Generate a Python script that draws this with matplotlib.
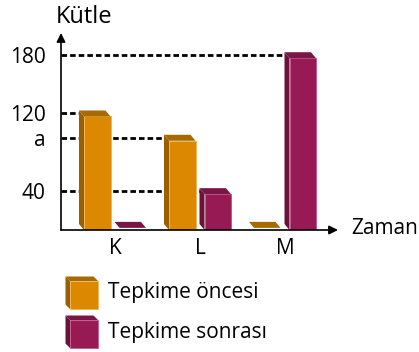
import matplotlib
matplotlib.use("Agg")
import matplotlib.pyplot as plt
from matplotlib.patches import Polygon, Rectangle

plt.rcParams['font.family'] = ['Open Sans', 'DejaVu Sans']

# Kütle değerleri
gruplar = ['K', 'L', 'M']
a_degeri = 95
once = [120, a_degeri, 0]
sonra = [0, 40, 180]
ytik = [40, a_degeri, 120, 180]
ytik_etiket = ['40', 'a', '120', '180']
seri_adlari = ['Tepkime öncesi', 'Tepkime sonrası']

# renkler: ön yüz, yan yüz, üst yüz, kenar
turuncu = ('#DC8800', '#9A6000', '#A66A00', '#EFB45E')
mor = ('#971A54', '#6A1238', '#7A1645', '#C35A8A')

W, H = 419, 352
fig = plt.figure(figsize=(W / 100, H / 100), dpi=100)
ax = fig.add_axes([61 / W, (H - 230) / H, 277 / W, 197 / H])

px_x = 85.0          # bir grup arası piksel
px_y = 0.971         # birim başına piksel
ax.set_xlim(-54 / px_x, (338 - 115) / px_x)
ax.set_ylim(0, 197 / px_y)

gen = 26.5 / px_x     # çubuk genişliği
kay = 4.5 / px_x      # merkezden boşluk
dx = 5 / px_x         # derinlik (sola)
dy = 6 / px_y         # derinlik (yukarı)


def cubuk(x0, v, renk):
    on, yan, ust, kenar = renk
    if v > 0:
        ft = v - dy / 2
        ax.add_patch(Rectangle((x0, 0), gen, ft, facecolor=on,
                               edgecolor=kenar, lw=0.7, zorder=3))
        ax.add_patch(Polygon([(x0, 0), (x0, ft), (x0 - dx, ft + dy),
                              (x0 - dx, dy)], closed=True,
                             facecolor=yan, lw=0, zorder=3))
    else:
        ft = 2.2
    ax.add_patch(Polygon([(x0, ft), (x0 + gen, ft), (x0 + gen - dx, ft + dy),
                          (x0 - dx, ft + dy)], closed=True,
                         facecolor=ust, lw=0, zorder=3))
    return x0 - dx


sol_kenar = {}
for i in range(len(gruplar)):
    sol_kenar[once[i]] = cubuk(i - kay - gen, once[i], turuncu)
    sol_kenar[sonra[i]] = cubuk(i + kay, sonra[i], mor)

# kesikli yardımcı çizgiler
x_sol = ax.get_xlim()[0]
for t in ytik:
    ax.plot([x_sol, sol_kenar[t]], [t, t], color='black', lw=2.0,
            dashes=(2.0, 1.1), zorder=1, clip_on=False)

ax.set_yticks(ytik, ytik_etiket)
ax.set_xticks(range(len(gruplar)), gruplar)
ax.tick_params(axis='y', length=0, pad=11, labelsize=15)
ax.tick_params(axis='x', length=0, pad=6, labelsize=15)
for s in ax.spines.values():
    s.set_visible(False)

# eksen okları
ax.annotate('', xy=(0, 1), xytext=(0, 0), xycoords='axes fraction',
            arrowprops=dict(arrowstyle='-|>', color='black', lw=1.2,
                            mutation_scale=13, shrinkA=0, shrinkB=0))
ax.annotate('', xy=(1, 0), xytext=(0, 0), xycoords='axes fraction',
            arrowprops=dict(arrowstyle='-|>', color='black', lw=1.2,
                            mutation_scale=13, shrinkA=0, shrinkB=0))

fig.text(84 / W, 1 - 23 / H, 'Kütle', fontsize=17, ha='center', va='baseline')
fig.text(351 / W, 1 - 229 / H, 'Zaman', fontsize=15, ha='left', va='center')

# lejant küpleri
lg = fig.add_axes([0, 0, 1, 1])
lg.set_xlim(0, W)
lg.set_ylim(H, 0)
lg.axis('off')
for k, (renk, ad) in enumerate(zip([turuncu, mor], seri_adlari)):
    y0 = 281 + 39 * k
    x0, s, d = 70, 28, 4.5
    lg.add_patch(Rectangle((x0, y0), s, s, facecolor=renk[0],
                           edgecolor=renk[3], lw=0.6))
    lg.add_patch(Polygon([(x0, y0), (x0, y0 + s), (x0 - d, y0 + s - d),
                          (x0 - d, y0 - d)], closed=True, facecolor=renk[1], lw=0))
    lg.add_patch(Polygon([(x0, y0), (x0 + s, y0), (x0 + s - d, y0 - d),
                          (x0 - d, y0 - d)], closed=True, facecolor=renk[2], lw=0))
    lg.text(108, 298 + 40 * k, ad, fontsize=15, ha='left', va='baseline')

fig.savefig('out.png', dpi=100)
